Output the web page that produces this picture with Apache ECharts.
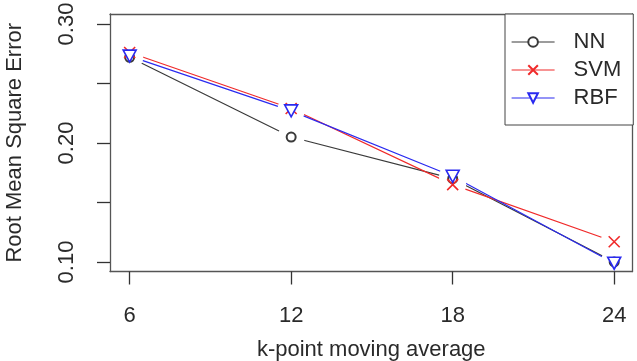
<!DOCTYPE html>
<html><head><meta charset="utf-8">
<script src="https://cdn.jsdelivr.net/npm/echarts@6/dist/echarts.min.js"></script>
<style>html,body{margin:0;padding:0;background:#fff}#c{width:637px;height:361px}</style>
</head><body><div id="c"></div>
<script>
var kValues = [6, 12, 18, 24];
var nnValues = [0.272, 0.205, 0.170, 0.100];
var svmValues = [0.276, 0.229, 0.165, 0.117];
var rbfValues = [0.273, 0.227, 0.172, 0.099];
var xTicks = [6, 12, 18, 24];
var yTicks = [0.10, 0.15, 0.20, 0.25, 0.30];
var yLabels = [0.10, 0.20, 0.30];
var seriesNames = ['NN', 'SVM', 'RBF'];
var seriesColors = ['#3a3a3a', '#f02a2a', '#2a2af0'];
var seriesSymbols = ['emptyCircle', 'path://M0,0L10,10M10,0L0,10', 'path://M0,0L10,0L5,8.7Z'];
var seriesSizes = [9, [11, 11], [13, 12]];
var allValues = [nnValues, svmValues, rbfValues];

var font = 'Liberation Sans, Arial, sans-serif';
var txt = '#2a2a2a';
var boxColor = '#555';

function pairs(v) { return kValues.map(function (k, i) { return [k, v[i]]; }); }
function symStyle(i) {
  return i === 0 ? { color: seriesColors[i], borderColor: seriesColors[i], borderWidth: 1.5 }
                 : { color: i === 2 ? '#fff' : 'none', borderColor: seriesColors[i], borderWidth: 1.6 };
}

var series = [];
// lines (named, for the legend) on the base layer
allValues.forEach(function (vals, i) {
  series.push({
    name: seriesNames[i], type: 'line', data: pairs(vals), zlevel: 0, z: 2,
    symbol: seriesSymbols[i], symbolSize: seriesSizes[i], showSymbol: true,
    lineStyle: { color: seriesColors[i], width: 1.2 },
    itemStyle: symStyle(i), animation: false
  });
});
// white masks that open the gaps round each point (layer 1)
allValues.forEach(function (vals) {
  series.push({
    type: 'scatter', data: pairs(vals), zlevel: 1, z: 2, symbol: 'circle', symbolSize: 27,
    itemStyle: { color: '#fff', opacity: 1 }, silent: true, animation: false
  });
});
// point symbols (layer 2)
allValues.forEach(function (vals, i) {
  series.push({
    type: 'scatter', data: pairs(vals), zlevel: 2, z: 2,
    symbol: seriesSymbols[i], symbolSize: seriesSizes[i],
    itemStyle: Object.assign(symStyle(i), { opacity: 1 }), silent: true, animation: false
  });
});

var chart = echarts.init(document.getElementById('c'));
chart.setOption({
  animation: false,
  backgroundColor: '#fff',
  grid: { left: 110, top: 14, right: 4.5, bottom: 89.5, show: false, outerBoundsMode: 'none', containLabel: false },
  legend: {
    orient: 'vertical', left: 505, top: 14, zlevel: 3,
    data: seriesNames.map(function (n, i) {
      return { name: n, lineStyle: { color: seriesColors[i], width: 1.2, opacity: 1 } };
    }),
    itemWidth: 43, itemHeight: 12, itemGap: 2,
    padding: [15, 12, 14, 6],
    borderColor: '#444', borderWidth: 1, backgroundColor: '#fff',
    textStyle: { fontFamily: font, fontSize: 22, lineHeight: 26, color: txt, padding: [0, 0, 0, 14] }
  },
  xAxis: [{
    type: 'value', min: 5.27, max: 24.68, position: 'bottom', zlevel: 3,
    name: 'k-point moving average', nameLocation: 'middle', nameGap: 67,
    nameTextStyle: { fontFamily: font, fontSize: 22, color: txt },
    axisLine: { show: true, lineStyle: { color: boxColor, width: 1.3 } },
    axisTick: { show: true, inside: false, length: 13, customValues: xTicks, lineStyle: { color: '#333', width: 1.3 } },
    axisLabel: { show: true, customValues: xTicks, margin: 33, fontFamily: font, fontSize: 22, color: txt },
    splitLine: { show: false }
  }, {
    type: 'value', min: 5.27, max: 24.68, position: 'top', zlevel: 3,
    axisLine: { show: true, onZero: false, lineStyle: { color: boxColor, width: 1.3 } },
    axisTick: { show: false }, axisLabel: { show: false }, splitLine: { show: false }
  }],
  yAxis: [{
    type: 'value', min: 0.092, max: 0.3084, position: 'left', zlevel: 3,
    name: 'Root Mean Square Error', nameLocation: 'middle', nameGap: 84,
    nameTextStyle: { fontFamily: font, fontSize: 22, color: txt },
    axisLine: { show: true, onZero: false, lineStyle: { color: boxColor, width: 1.3 } },
    axisTick: { show: true, inside: false, length: 13, customValues: yTicks, lineStyle: { color: '#333', width: 1.3 } },
    axisLabel: { show: true, customValues: yLabels, rotate: 90, margin: 32, fontFamily: font, fontSize: 22, color: txt,
      formatter: function (v) { return v.toFixed(2); } },
    splitLine: { show: false }
  }, {
    type: 'value', min: 0.092, max: 0.3084, position: 'right', zlevel: 3,
    axisLine: { show: true, onZero: false, lineStyle: { color: boxColor, width: 1.3 } },
    axisTick: { show: false }, axisLabel: { show: false }, splitLine: { show: false }
  }],
  series: series
});
</script></body></html>
